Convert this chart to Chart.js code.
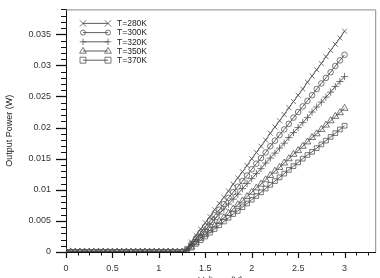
<!DOCTYPE html>
<html><head><meta charset="utf-8">
<script src="https://cdn.jsdelivr.net/npm/chart.js@4/dist/chart.umd.min.js"></script>
<style>
html,body{margin:0;padding:0;background:#fff;overflow:hidden;width:380px;height:278px;}
#wrap{position:relative;width:380px;height:292px;}
</style></head><body>
<div id="wrap"><canvas id="c"></canvas></div>
<script>
// ---- data ----
const voltage = [0,0.05,0.1,0.15,0.2,0.25,0.3,0.35,0.4,0.45,0.5,0.55,0.6,0.65,0.7,0.75,0.8,0.85,0.9,0.95,1,1.05,1.1,1.15,1.2,1.25,
  1.3,1.35,1.4,1.45,1.5,1.55,1.6,1.65,1.7,1.75,1.8,1.85,1.9,1.95,2,2.05,2.1,2.15,2.2,2.25,2.3,2.35,2.4,2.45,2.5,2.55,2.6,2.65,2.7,2.75,2.8,2.85,2.9,2.95,3];
const seriesLabels = ['T=280K','T=300K','T=320K','T=350K','T=370K'];
const power280 = [0,0,0,0,0,0,0,0,0,0,0,0,0,0,0,0,0,0,0,0,0,0,0,0,0,0,
  0.0006,0.0016,0.0027,0.0037,0.0047,0.0057,0.0068,0.0078,0.0088,0.0098,0.0109,0.0119,0.0129,0.0139,0.0150,0.0160,0.0170,0.0180,0.0191,0.0201,0.0211,0.0221,0.0232,0.0242,0.0252,0.0262,0.0273,0.0283,0.0293,0.0303,0.0314,0.0324,0.0334,0.0344,0.0355];
const power300 = [0,0,0,0,0,0,0,0,0,0,0,0,0,0,0,0,0,0,0,0,0,0,0,0,0,0,
  0.0004,0.0013,0.0022,0.0031,0.0041,0.0050,0.0059,0.0068,0.0077,0.0087,0.0096,0.0105,0.0114,0.0123,0.0133,0.0142,0.0151,0.0160,0.0170,0.0179,0.0188,0.0197,0.0206,0.0216,0.0225,0.0234,0.0243,0.0252,0.0262,0.0271,0.0280,0.0289,0.0299,0.0308,0.0317];
const power320 = [0,0,0,0,0,0,0,0,0,0,0,0,0,0,0,0,0,0,0,0,0,0,0,0,0,0,
  0.0003,0.0011,0.0020,0.0028,0.0036,0.0044,0.0052,0.0061,0.0069,0.0077,0.0085,0.0093,0.0102,0.0110,0.0118,0.0126,0.0134,0.0143,0.0151,0.0159,0.0167,0.0175,0.0184,0.0192,0.0200,0.0208,0.0216,0.0225,0.0233,0.0241,0.0249,0.0257,0.0266,0.0274,0.0282];
const power350 = [0,0,0,0,0,0,0,0,0,0,0,0,0,0,0,0,0,0,0,0,0,0,0,0,0,0,
  0.0001,0.0008,0.0015,0.0022,0.0028,0.0035,0.0042,0.0049,0.0055,0.0062,0.0069,0.0076,0.0082,0.0089,0.0096,0.0103,0.0109,0.0116,0.0123,0.0130,0.0136,0.0143,0.0150,0.0157,0.0163,0.0170,0.0177,0.0184,0.0190,0.0197,0.0204,0.0211,0.0218,0.0224,0.0231];
const power370 = [0,0,0,0,0,0,0,0,0,0,0,0,0,0,0,0,0,0,0,0,0,0,0,0,0,0,
  0.0001,0.0007,0.0013,0.0019,0.0025,0.0031,0.0037,0.0043,0.0049,0.0055,0.0061,0.0066,0.0072,0.0078,0.0084,0.0090,0.0096,0.0102,0.0108,0.0114,0.0120,0.0126,0.0132,0.0138,0.0144,0.0150,0.0156,0.0161,0.0167,0.0173,0.0179,0.0185,0.0191,0.0197,0.0203];
const xTickValues = [0,0.5,1,1.5,2,2.5,3];
const yTickValues = [0,0.005,0.01,0.015,0.02,0.025,0.03,0.035];

// ---- chart ----
const allSeries = [power280, power300, power320, power350, power370];
const styles = ['crossRot','circle','cross','triangle','rect'];
const radii = [3.5, 2.8, 3.6, 4.0, 3.3];
const FONT = 'Liberation Sans, Arial, Helvetica, sans-serif';

function drawMarker(ctx, style, r, x, y) {
  ctx.beginPath();
  if (style === 'crossRot') {
    ctx.moveTo(x - r, y - r); ctx.lineTo(x + r, y + r);
    ctx.moveTo(x - r, y + r); ctx.lineTo(x + r, y - r);
  } else if (style === 'cross') {
    ctx.moveTo(x - r, y); ctx.lineTo(x + r, y);
    ctx.moveTo(x, y - r); ctx.lineTo(x, y + r);
  } else if (style === 'circle') {
    ctx.arc(x, y, r, 0, Math.PI * 2);
  } else if (style === 'triangle') {
    ctx.moveTo(x, y - r); ctx.lineTo(x + r * 0.95, y + r * 0.6); ctx.lineTo(x - r * 0.95, y + r * 0.6); ctx.closePath();
  } else if (style === 'rect') {
    ctx.rect(x - r, y - r, 2 * r, 2 * r);
  }
  ctx.stroke();
}

const framePlugin = {
  id: 'frame',
  afterDraw(chart) {
    const ctx = chart.ctx, a = chart.chartArea;
    const xs = chart.scales.x, ys = chart.scales.y;
    ctx.save();
    ctx.strokeStyle = '#8a8a8a'; ctx.lineWidth = 1;
    ctx.beginPath();
    ctx.moveTo(a.left, a.top + 0.5); ctx.lineTo(a.right + 0.5, a.top + 0.5); ctx.lineTo(a.right + 0.5, a.bottom);
    ctx.stroke();
    ctx.strokeStyle = '#111';
    for (let i = 0; ; i++) {
      const v = i * 0.125;
      if (v > xs.max + 1e-9) break;
      const px = Math.round(xs.getPixelForValue(v)) + 0.5;
      const major = (i % 4 === 0);
      ctx.lineWidth = major ? 1.2 : 1;
      ctx.beginPath(); ctx.moveTo(px, a.bottom); ctx.lineTo(px, a.bottom + (major ? 6 : 3.5)); ctx.stroke();
    }
    for (let i = 0; ; i++) {
      const v = i * 0.001;
      if (v > ys.max + 1e-9) break;
      const py = Math.round(ys.getPixelForValue(v)) + 0.5;
      const major = (i % 5 === 0);
      ctx.lineWidth = major ? 1.3 : 1;
      ctx.beginPath(); ctx.moveTo(a.left, py); ctx.lineTo(a.left - (major ? 10 : 5), py); ctx.stroke();
    }
    ctx.font = '8.5px ' + FONT;
    ctx.textBaseline = 'middle';
    chart.data.datasets.forEach((ds, i) => {
      const y = a.top + 14 + i * 9.2;
      const x0 = a.left + 17, x1 = a.left + 42;
      ctx.strokeStyle = '#333'; ctx.lineWidth = 0.8;
      ctx.beginPath(); ctx.moveTo(x0, y); ctx.lineTo(x1, y); ctx.stroke();
      ctx.strokeStyle = '#555'; ctx.lineWidth = 0.8;
      drawMarker(ctx, styles[i], radii[i] * 0.9, x0, y);
      drawMarker(ctx, styles[i], radii[i] * 0.9, x1, y);
      ctx.fillStyle = '#222';
      ctx.fillText(ds.label, a.left + 51, y + 0.5);
    });
    ctx.restore();
  }
};

const datasets = allSeries.map((s, i) => ({
  label: seriesLabels[i],
  data: voltage.map((v, j) => ({ x: v, y: s[j] })),
  borderColor: '#333',
  borderWidth: 0.8,
  pointStyle: styles[i],
  pointRadius: radii[i],
  pointBorderWidth: 0.8,
  pointBorderColor: '#555',
  pointBackgroundColor: 'rgba(0,0,0,0)',
  fill: false,
  tension: 0
}));

new Chart(document.getElementById('c'), {
  type: 'line',
  data: { datasets },
  options: {
    responsive: true,
    maintainAspectRatio: false,
    animation: false,
    devicePixelRatio: 1,
    layout: { padding: { top: 6, right: 4, left: 0, bottom: 0 } },
    plugins: { legend: { display: false }, tooltip: { enabled: false } },
    scales: {
      x: {
        type: 'linear', min: 0, max: 3.33,
        afterBuildTicks: (s) => { s.ticks = xTickValues.map(v => ({ value: v })); },
        afterFit: (s) => { s.height = 40; },
        ticks: { color: '#333', font: { family: FONT, size: 9 }, padding: 3, maxRotation: 0,
          callback: (v) => String(Math.round(v * 1000) / 1000) },
        grid: { display: true, drawOnChartArea: false, drawTicks: true, tickLength: 8, tickColor: 'rgba(0,0,0,0)' },
        border: { display: true, color: '#111', width: 1 },
        title: { display: true, text: 'Voltage (V)', color: '#333', font: { family: FONT, size: 9 }, padding: { top: 0, bottom: 6 } }
      },
      y: {
        type: 'linear', min: 0, max: 0.039,
        afterBuildTicks: (s) => { s.ticks = yTickValues.map(v => ({ value: v })); },
        afterFit: (s) => { s.width = 66; },
        ticks: { color: '#333', font: { family: FONT, size: 9 }, padding: 4,
          callback: (v) => String(Math.round(v * 100000) / 100000) },
        grid: { display: true, drawOnChartArea: false, drawTicks: true, tickLength: 11, tickColor: 'rgba(0,0,0,0)' },
        border: { display: true, color: '#111', width: 1 },
        title: { display: true, text: 'Output Power (W)', color: '#222', font: { family: FONT, size: 9 }, padding: 4 }
      }
    }
  },
  plugins: [framePlugin]
});
</script>
</body></html>
